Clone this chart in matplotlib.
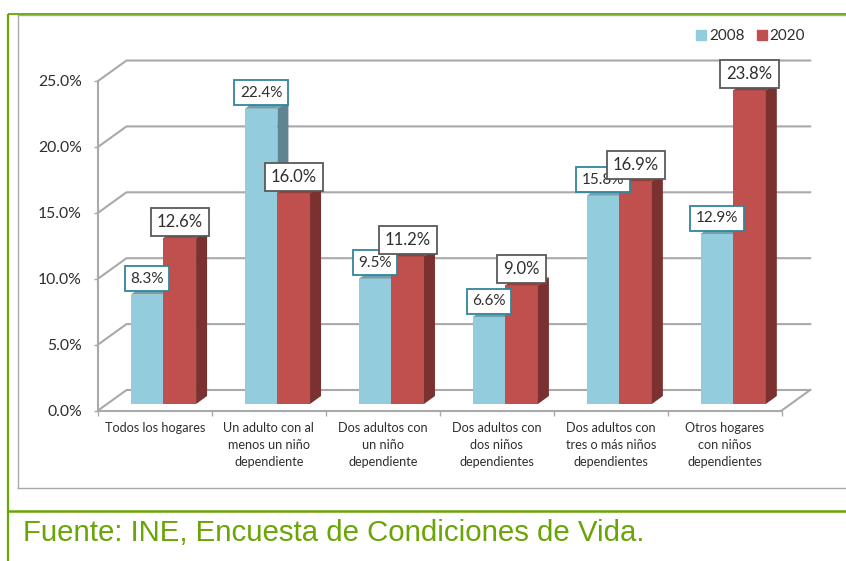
import matplotlib
matplotlib.use('Agg')
import matplotlib.pyplot as plt
from matplotlib.lines import Line2D
from matplotlib.patches import Polygon

categories = [
    'Todos los hogares',
    'Un adulto con al\nmenos un niño\ndependiente',
    'Dos adultos con\nun niño\ndependiente',
    'Dos adultos con\ndos niños\ndependientes',
    'Dos adultos con\ntres o más niños\ndependientes',
    'Otros hogares\ncon niños\ndependientes',
]
values_2008 = [8.3, 22.4, 9.5, 6.6, 15.8, 12.9]
values_2020 = [12.6, 16.0, 11.2, 9.0, 16.9, 23.8]
yticks = [0, 5, 10, 15, 20, 25]

GREEN = '#6AA506'
GRID = '#A9A9A9'
TEXT = '#2E2E2E'
BLUE = ('#93CDDD', '#6FA0AE', '#5F8590')
RED = ('#C0504D', '#963F3D', '#7B3130')

plt.rcParams['font.family'] = ['Lato', 'DejaVu Sans']

W, H = 846, 561
fig = plt.figure(figsize=(W / 100, H / 100), dpi=100)
ax = fig.add_axes([98 / W, 1 - 410.5 / H, 683.7 / W, 329.5 / H])
ax.set_xlim(0, 6)
ax.set_ylim(0, 25)

# pixel sizes turned into data units for the fake 3d depth
px_x = 6 / 683.7
px_y = 25 / 329.5
wall_dx, wall_dy = 28.5 * px_x, 20.5 * px_y
side_dx, side_dy = 11 * px_x, 8 * px_y
base_dx, base_dy = 8.5 * px_x, 6.5 * px_y
bar_w = 32.6 * px_x


def draw_bar(x, value, colors, z):
    x0 = x + base_dx
    bars = ax.bar(x0, value, bar_w, bottom=base_dy, align='edge', color=colors[0],
                  edgecolor='none', zorder=z)
    top = value + base_dy
    ax.add_patch(Polygon([(x0, top), (x0 + side_dx, top + side_dy),
                          (x0 + bar_w + side_dx, top + side_dy), (x0 + bar_w, top)],
                         facecolor=colors[1], edgecolor='none', zorder=z, clip_on=False))
    ax.add_patch(Polygon([(x0 + bar_w, base_dy), (x0 + bar_w + side_dx, base_dy + side_dy),
                          (x0 + bar_w + side_dx, top + side_dy), (x0 + bar_w, top)],
                         facecolor=colors[2], edgecolor='none', zorder=z, clip_on=False))
    return bars


# back wall and floor
for v in yticks:
    ax.plot([0, wall_dx, 6 + wall_dx], [v, v + wall_dy, v + wall_dy], color=GRID, lw=1.5,
            clip_on=False, zorder=1)
ax.plot([6, 6 + wall_dx], [0, wall_dy], color=GRID, lw=1.5, clip_on=False, zorder=1)

for i in range(len(categories)):
    left = i + (0.5 - bar_w)
    draw_bar(left, values_2008[i], BLUE, 3 + i * 0.1)
    draw_bar(left + bar_w, values_2020[i], RED, 3.05 + i * 0.1)
    for x, v, edge, size in [(left, values_2008[i], '#31859C', 11),
                             (left + bar_w, values_2020[i], '#595959', 12)]:
        ax.annotate(f'{v:.1f}%', (x + base_dx + bar_w / 2, v + base_dy), xytext=(0, 11.5),
                    textcoords='offset points', ha='center', va='center', fontsize=size,
                    color=TEXT, zorder=6,
                    bbox=dict(boxstyle='square,pad=0.36', fc='white', ec=edge, lw=1.3))

for side in ['top', 'right']:
    ax.spines[side].set_visible(False)
for side in ['left', 'bottom']:
    ax.spines[side].set_color(GRID)
    ax.spines[side].set_linewidth(1.5)

ax.set_yticks(yticks)
ax.set_yticklabels([f'{v:.1f}%' for v in yticks], fontsize=11.3, color=TEXT)
ax.set_xticks(range(7))
ax.set_xticklabels([])
ax.set_xticks([i + 0.5 for i in range(6)], minor=True)
ax.set_xticklabels(categories, minor=True, fontsize=9.1, color=TEXT, linespacing=1.5)
ax.tick_params(axis='x', which='major', length=3.5, color=GRID, width=1)
ax.tick_params(axis='x', which='minor', length=0, pad=8.5)
ax.tick_params(axis='y', length=3, color=GRID, width=1, pad=8.5)

# legend
handles = [Line2D([], [], ls='none', marker='s', ms=7, color=BLUE[0]),
           Line2D([], [], ls='none', marker='s', ms=7, color=RED[0])]
fig.legend(handles, ['2008', '2020'], ncol=2, frameon=False, fontsize=11,
           labelcolor=TEXT, loc='center', bbox_to_anchor=(748.5 / W, 1 - 36 / H),
           handletextpad=-0.1, columnspacing=0.55, handlelength=1.2)


# frame lines, all in pixel positions of the figure
def frame_line(x0, y0, x1, y1, color, lw):
    fig.add_artist(Line2D([x0 / W, x1 / W], [1 - y0 / H, 1 - y1 / H], color=color, lw=lw,
                          solid_capstyle='butt'))


frame_line(17.5, 15, 17.5, 487.5, GRID, 1)
frame_line(17, 487.5, W, 487.5, GRID, 1)
frame_line(17, 15, W, 15, GRID, 1)
frame_line(8, 14, W, 14, GREEN, 1.3)
frame_line(8, 13.5, 8, H, GREEN, 1.6)
frame_line(8, 511, W, 511, GREEN, 1.8)

fig.text(23 / W, 1 - 541 / H, 'Fuente: INE, Encuesta de Condiciones de Vida.',
         family='Liberation Sans', fontsize=21.15, color=GREEN, ha='left', va='baseline')

fig.savefig('out.png', dpi=100)
